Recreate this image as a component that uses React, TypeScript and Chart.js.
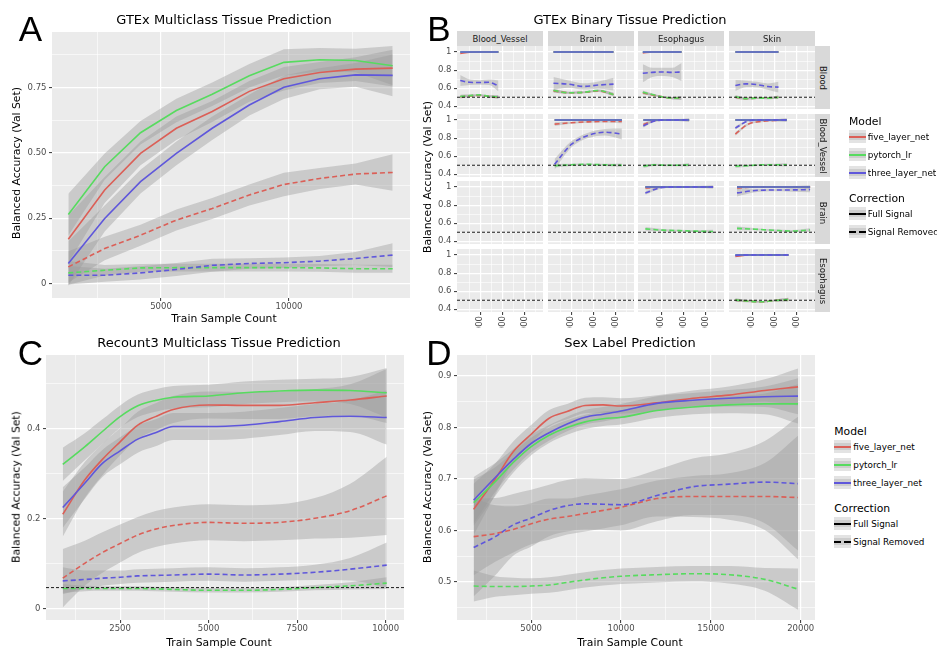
import React, { useEffect, useRef } from 'react';
import { Chart, registerables } from 'chart.js';

Chart.register(...registerables);

const FONT = "'DejaVu Sans', 'Noto Sans', sans-serif";
const LETTER_FONT = "'Liberation Sans', Arial, sans-serif";
const RED = '#DB5F57';
const GREEN = '#57DB5F';
const BLUE = '#5F57DB';
const RIBBON = 'rgba(153,153,153,0.4)';
const PANEL_BG = '#EBEBEB';
const TICK_TEXT = '#4D4D4D';
const TICK_MARK = '#333333';

const modelNames = ['five_layer_net', 'pytorch_lr', 'three_layer_net'];
const correctionNames = ['Full Signal', 'Signal Removed'];

// ---------------- Panel A: GTEx multiclass ----------------
const aSampleCounts = [1380, 2800, 4200, 5600, 7000, 8450, 9800, 11200, 12600, 14050];
const aFiveFull = [0.170, 0.358, 0.498, 0.594, 0.658, 0.735, 0.783, 0.807, 0.820, 0.824];
const aLrFull = [0.264, 0.447, 0.577, 0.662, 0.724, 0.795, 0.846, 0.856, 0.853, 0.833];
const aThreeFull = [0.077, 0.249, 0.390, 0.498, 0.594, 0.683, 0.751, 0.783, 0.798, 0.796];
const aFiveRem = [0.064, 0.134, 0.185, 0.243, 0.287, 0.339, 0.379, 0.402, 0.419, 0.425];
const aLrRem = [0.041, 0.051, 0.060, 0.061, 0.061, 0.061, 0.061, 0.060, 0.057, 0.057];
const aThreeRem = [0.032, 0.032, 0.041, 0.054, 0.070, 0.077, 0.080, 0.086, 0.096, 0.109];
const aFiveFullBand = [0.09, 0.05, 0.045, 0.045, 0.04, 0.04, 0.045, 0.04, 0.045, 0.07];
const aLrFullBand = [0.08, 0.05, 0.045, 0.045, 0.045, 0.045, 0.05, 0.045, 0.045, 0.075];
const aThreeFullBand = [0.085, 0.05, 0.045, 0.045, 0.045, 0.04, 0.045, 0.04, 0.045, 0.08];
const aFiveRemBand = [0.06, 0.045, 0.04, 0.04, 0.04, 0.04, 0.045, 0.04, 0.04, 0.07];
const aLrRemBand = [0.045, 0.02, 0.015, 0.015, 0.015, 0.015, 0.015, 0.015, 0.015, 0.015];
const aThreeRemBand = [0.035, 0.025, 0.025, 0.025, 0.025, 0.02, 0.02, 0.02, 0.025, 0.045];
const aXMajor = [5000, 10000];
const aXLabels = ['5000', '10000'];
const aXMinor = [2500, 7500, 12500];
const aYMajor = [0, 0.25, 0.5, 0.75];
const aYLabels = ['0', '0.25', '0.50', '0.75'];
const aYMinor = [0.125, 0.375, 0.625, 0.875];

// ---------------- Panel C: Recount3 multiclass ----------------
const cSampleCounts = [880, 1500, 2000, 2500, 3000, 3500, 4000, 5000, 6000, 7000, 8000, 9000, 10030];
const cLrFull = [0.320, 0.359, 0.393, 0.426, 0.450, 0.462, 0.469, 0.472, 0.479, 0.483, 0.485, 0.484, 0.479];
const cFiveFull = [0.209, 0.285, 0.331, 0.370, 0.407, 0.426, 0.442, 0.452, 0.451, 0.451, 0.457, 0.463, 0.472];
const cThreeFull = [0.224, 0.278, 0.322, 0.350, 0.376, 0.390, 0.404, 0.404, 0.407, 0.415, 0.424, 0.427, 0.424];
const cFiveRem = [0.067, 0.100, 0.124, 0.144, 0.163, 0.176, 0.184, 0.191, 0.189, 0.191, 0.200, 0.217, 0.250];
const cThreeRem = [0.061, 0.064, 0.067, 0.069, 0.072, 0.073, 0.074, 0.076, 0.074, 0.076, 0.080, 0.087, 0.096];
const cLrRem = [0.044, 0.044, 0.044, 0.044, 0.044, 0.043, 0.042, 0.040, 0.040, 0.042, 0.046, 0.050, 0.056];
const cLrFullBand = [0.037, 0.03, 0.027, 0.025, 0.025, 0.025, 0.025, 0.025, 0.025, 0.025, 0.025, 0.03, 0.055];
const cFiveFullBand = [0.05, 0.04, 0.035, 0.03, 0.03, 0.03, 0.03, 0.03, 0.03, 0.03, 0.03, 0.035, 0.06];
const cThreeFullBand = [0.045, 0.035, 0.03, 0.03, 0.03, 0.03, 0.03, 0.03, 0.03, 0.03, 0.03, 0.035, 0.06];
const cFiveRemBand = [0.065, 0.05, 0.045, 0.042, 0.04, 0.04, 0.04, 0.04, 0.04, 0.04, 0.045, 0.06, 0.087];
const cThreeRemBand = [0.03, 0.02, 0.017, 0.015, 0.015, 0.015, 0.015, 0.015, 0.015, 0.015, 0.017, 0.025, 0.05];
const cLrRemBand = [0.01, 0.006, 0.005, 0.005, 0.005, 0.005, 0.005, 0.005, 0.005, 0.005, 0.006, 0.008, 0.013];
const cChanceLevel = 0.046;
const cXMajor = [2500, 5000, 7500, 10000];
const cXLabels = ['2500', '5000', '7500', '10000'];
const cXMinor = [1250, 3750, 6250, 8750];
const cYMajor = [0, 0.2, 0.4];
const cYLabels = ['0', '0.2', '0.4'];
const cYMinor = [0.1, 0.3, 0.5];

// ---------------- Panel D: Sex label ----------------
const dSampleCounts = [1800, 3000, 4000, 5000, 6000, 7000, 8000, 9000, 10000, 12000, 14000, 16000, 18000, 19850];
const dFiveFull = [0.641, 0.700, 0.753, 0.787, 0.818, 0.831, 0.843, 0.844, 0.842, 0.848, 0.857, 0.863, 0.872, 0.879];
const dThreeFull = [0.659, 0.703, 0.738, 0.769, 0.790, 0.807, 0.820, 0.826, 0.832, 0.847, 0.853, 0.857, 0.860, 0.861];
const dLrFull = [0.654, 0.695, 0.732, 0.763, 0.785, 0.800, 0.811, 0.817, 0.820, 0.833, 0.840, 0.844, 0.846, 0.846];
const dThreeRem = [0.567, 0.588, 0.611, 0.624, 0.639, 0.648, 0.652, 0.651, 0.650, 0.668, 0.685, 0.690, 0.694, 0.691];
const dFiveRem = [0.588, 0.594, 0.602, 0.613, 0.622, 0.627, 0.633, 0.639, 0.645, 0.662, 0.666, 0.666, 0.666, 0.664];
const dLrRem = [0.492, 0.491, 0.491, 0.492, 0.494, 0.499, 0.504, 0.508, 0.511, 0.514, 0.516, 0.514, 0.505, 0.486];
const dFiveFullBand = [0.05, 0.03, 0.02, 0.018, 0.016, 0.015, 0.015, 0.015, 0.015, 0.015, 0.015, 0.017, 0.022, 0.036];
const dThreeFullBand = [0.045, 0.028, 0.02, 0.017, 0.015, 0.014, 0.014, 0.014, 0.014, 0.014, 0.014, 0.016, 0.02, 0.035];
const dLrFullBand = [0.045, 0.028, 0.02, 0.017, 0.015, 0.014, 0.014, 0.014, 0.014, 0.014, 0.014, 0.016, 0.02, 0.038];
const dThreeRemBand = [0.095, 0.075, 0.06, 0.055, 0.05, 0.05, 0.05, 0.05, 0.05, 0.05, 0.055, 0.06, 0.08, 0.13];
const dFiveRemBand = [0.075, 0.055, 0.045, 0.04, 0.04, 0.035, 0.035, 0.035, 0.035, 0.035, 0.04, 0.045, 0.065, 0.12];
const dLrRemBand = [0.03, 0.02, 0.017, 0.015, 0.015, 0.015, 0.015, 0.015, 0.015, 0.015, 0.015, 0.017, 0.022, 0.04];
const dXMajor = [5000, 10000, 15000, 20000];
const dXLabels = ['5000', '10000', '15000', '20000'];
const dXMinor = [2500, 7500, 12500, 17500];
const dYMajor = [0.5, 0.6, 0.7, 0.8, 0.9];
const dYLabels = ['0.5', '0.6', '0.7', '0.8', '0.9'];
const dYMinor = [0.45, 0.55, 0.65, 0.75, 0.85];

// ---------------- Panel B: GTEx binary facets ----------------
const bColumnNames = ['Blood_Vessel', 'Brain', 'Esophagus', 'Skin'];
const bRowNames = ['Blood', 'Blood_Vessel', 'Brain', 'Esophagus'];
const bXMajor = [1000, 2000, 3000];
const bXLabels = ['1000', '2000', '3000'];
const bXMinor = [500, 1500, 2500, 3500];
const bYMajor = [0.4, 0.6, 0.8, 1.0];
const bYLabels = ['0.4', '0.6', '0.8', '1'];
const bYMinor = [0.5, 0.7, 0.9];
const bChanceLevel = 0.5;
const bPerfect = [1, 1, 1, 1, 1];
const bSmallBand = [0.02, 0.012, 0.01, 0.012, 0.02];

const bBloodVsVesselX = [100, 530, 960, 1390, 1820];
const bBloodVsVesselFiveFull = [0.985, 0.997, 1, 1, 1];
const bBloodVsVesselFiveRem = [0.505, 0.515, 0.52, 0.51, 0.5];
const bBloodVsVesselLrRem = [0.508, 0.518, 0.526, 0.51, 0.505];
const bBloodVsVesselThreeRem = [0.685, 0.665, 0.663, 0.665, 0.625];
const bBloodVsVesselThreeBand = [0.06, 0.03, 0.025, 0.03, 0.06];

const bBloodVsBrainX = [200, 875, 1550, 2225, 2900];
const bBloodVsBrainFiveFull = [1, 1, 1, 1, 1];
const bBloodVsBrainFiveRem = [0.57, 0.55, 0.553, 0.57, 0.53];
const bBloodVsBrainLrRem = [0.575, 0.55, 0.555, 0.575, 0.53];
const bBloodVsBrainThreeRem = [0.655, 0.645, 0.62, 0.635, 0.645];
const bBloodVsBrainThreeBand = [0.07, 0.04, 0.035, 0.04, 0.07];

const bBloodVsEsophX = [170, 600, 1040, 1480, 1915];
const bBloodVsEsophFiveFull = [0.99, 1, 1, 1, 1];
const bBloodVsEsophFiveRem = [0.55, 0.525, 0.505, 0.49, 0.49];
const bBloodVsEsophLrRem = [0.555, 0.53, 0.505, 0.49, 0.493];
const bBloodVsEsophThreeRem = [0.765, 0.775, 0.78, 0.775, 0.78];
const bBloodVsEsophThreeBand = [0.1, 0.05, 0.045, 0.05, 0.1];

const bBloodVsSkinX = [240, 725, 1210, 1695, 2180];
const bBloodVsSkinFiveFull = [1, 1, 1, 1, 1];
const bBloodVsSkinFiveRem = [0.5, 0.485, 0.49, 0.49, 0.5];
const bBloodVsSkinLrRem = [0.505, 0.485, 0.49, 0.49, 0.5];
const bBloodVsSkinThreeRem = [0.63, 0.648, 0.64, 0.618, 0.612];
const bBloodVsSkinThreeBand = [0.06, 0.035, 0.03, 0.035, 0.06];

const bVesselVsBrainX = [250, 1000, 1760, 2520, 3275];
const bVesselVsBrainFiveFull = [1, 1, 1, 1, 1];
const bVesselVsBrainFiveRem = [0.955, 0.97, 0.98, 0.985, 0.985];
const bVesselVsBrainLrRem = [0.495, 0.505, 0.51, 0.505, 0.5];
const bVesselVsBrainThreeRem = [0.51, 0.73, 0.83, 0.865, 0.845];
const bVesselVsBrainThreeBand = [0.06, 0.035, 0.03, 0.035, 0.06];

const bVesselVsEsophX = [195, 710, 1225, 1740, 2255];
const bVesselVsEsophFiveFull = [1, 1, 1, 1, 1];
const bVesselVsEsophFiveRem = [0.95, 0.995, 1, 1, 1];
const bVesselVsEsophLrRem = [0.49, 0.505, 0.5, 0.5, 0.505];
const bVesselVsEsophThreeRem = [0.935, 0.99, 1, 1, 1];
const bVesselVsEsophThreeBand = [0.02, 0.01, 0.008, 0.01, 0.015];

const bVesselVsSkinX = [240, 820, 1400, 1980, 2555];
const bVesselVsSkinFiveFull = [1, 1, 1, 1, 1];
const bVesselVsSkinFiveRem = [0.845, 0.955, 0.985, 0.995, 1];
const bVesselVsSkinLrRem = [0.49, 0.495, 0.505, 0.505, 0.505];
const bVesselVsSkinThreeRem = [0.91, 0.99, 1, 1, 1];
const bVesselVsSkinThreeBand = [0.02, 0.01, 0.008, 0.01, 0.015];

const bBrainVsEsophX = [285, 1045, 1810, 2570, 3330];
const bBrainVsEsophFiveFull = [1, 1, 1, 1, 1];
const bBrainVsEsophFiveRem = [0.99, 1, 1, 1, 1];
const bBrainVsEsophLrRem = [0.537, 0.523, 0.518, 0.512, 0.508];
const bBrainVsEsophThreeRem = [0.935, 0.995, 1, 1, 1];
const bBrainVsEsophThreeBand = [0.02, 0.01, 0.008, 0.008, 0.01];

const bBrainVsSkinX = [315, 1140, 1960, 2780, 3600];
const bBrainVsSkinFiveFull = [1, 1, 1, 1, 1];
const bBrainVsSkinFiveRem = [0.99, 1, 1, 1, 1];
const bBrainVsSkinLrRem = [0.543, 0.533, 0.522, 0.513, 0.525];
const bBrainVsSkinThreeRem = [0.935, 0.962, 0.967, 0.968, 0.972];
const bBrainVsSkinThreeBand = [0.04, 0.02, 0.015, 0.02, 0.03];

const bEsophVsSkinX = [240, 835, 1430, 2030, 2630];
const bEsophVsSkinFiveFull = [0.985, 1, 1, 1, 1];
const bEsophVsSkinFiveRem = [0.5, 0.49, 0.483, 0.497, 0.507];
const bEsophVsSkinLrRem = [0.503, 0.49, 0.483, 0.497, 0.507];
const bEsophVsSkinThreeRem = [0.995, 1, 1, 1, 1];
const bEsophVsSkinThreeBand = [0.01, 0.006, 0.005, 0.006, 0.01];

const bFacetData = [
  { row: 0, col: 0, x: bBloodVsVesselX, fiveFull: bBloodVsVesselFiveFull, fiveRem: bBloodVsVesselFiveRem, lrRem: bBloodVsVesselLrRem, threeRem: bBloodVsVesselThreeRem, threeBand: bBloodVsVesselThreeBand },
  { row: 0, col: 1, x: bBloodVsBrainX, fiveFull: bBloodVsBrainFiveFull, fiveRem: bBloodVsBrainFiveRem, lrRem: bBloodVsBrainLrRem, threeRem: bBloodVsBrainThreeRem, threeBand: bBloodVsBrainThreeBand },
  { row: 0, col: 2, x: bBloodVsEsophX, fiveFull: bBloodVsEsophFiveFull, fiveRem: bBloodVsEsophFiveRem, lrRem: bBloodVsEsophLrRem, threeRem: bBloodVsEsophThreeRem, threeBand: bBloodVsEsophThreeBand },
  { row: 0, col: 3, x: bBloodVsSkinX, fiveFull: bBloodVsSkinFiveFull, fiveRem: bBloodVsSkinFiveRem, lrRem: bBloodVsSkinLrRem, threeRem: bBloodVsSkinThreeRem, threeBand: bBloodVsSkinThreeBand },
  { row: 1, col: 1, x: bVesselVsBrainX, fiveFull: bVesselVsBrainFiveFull, fiveRem: bVesselVsBrainFiveRem, lrRem: bVesselVsBrainLrRem, threeRem: bVesselVsBrainThreeRem, threeBand: bVesselVsBrainThreeBand },
  { row: 1, col: 2, x: bVesselVsEsophX, fiveFull: bVesselVsEsophFiveFull, fiveRem: bVesselVsEsophFiveRem, lrRem: bVesselVsEsophLrRem, threeRem: bVesselVsEsophThreeRem, threeBand: bVesselVsEsophThreeBand },
  { row: 1, col: 3, x: bVesselVsSkinX, fiveFull: bVesselVsSkinFiveFull, fiveRem: bVesselVsSkinFiveRem, lrRem: bVesselVsSkinLrRem, threeRem: bVesselVsSkinThreeRem, threeBand: bVesselVsSkinThreeBand },
  { row: 2, col: 2, x: bBrainVsEsophX, fiveFull: bBrainVsEsophFiveFull, fiveRem: bBrainVsEsophFiveRem, lrRem: bBrainVsEsophLrRem, threeRem: bBrainVsEsophThreeRem, threeBand: bBrainVsEsophThreeBand },
  { row: 2, col: 3, x: bBrainVsSkinX, fiveFull: bBrainVsSkinFiveFull, fiveRem: bBrainVsSkinFiveRem, lrRem: bBrainVsSkinLrRem, threeRem: bBrainVsSkinThreeRem, threeBand: bBrainVsSkinThreeBand },
  { row: 3, col: 3, x: bEsophVsSkinX, fiveFull: bEsophVsSkinFiveFull, fiveRem: bEsophVsSkinFiveRem, lrRem: bEsophVsSkinLrRem, threeRem: bEsophVsSkinThreeRem, threeBand: bEsophVsSkinThreeBand },
];

// ---------------- helpers ----------------
type Series = { xs: number[]; ys: number[]; band: number[] | null; color: string; dashed: boolean };

function buildDatasets(series: Series[], smooth: boolean, hline: number | null, xMin: number, xMax: number) {
  const interp: any = smooth ? { cubicInterpolationMode: 'monotone' } : { tension: 0 };
  const ds: any[] = [];
  for (const s of series) {
    if (!s.band) continue;
    const b = s.band;
    ds.push({ data: s.xs.map((x, i) => ({ x, y: s.ys[i] - b[i] })), borderColor: 'rgba(0,0,0,0)', borderWidth: 0, pointRadius: 0, fill: false, ...interp });
    ds.push({ data: s.xs.map((x, i) => ({ x, y: s.ys[i] + b[i] })), borderColor: 'rgba(0,0,0,0)', borderWidth: 0, pointRadius: 0, fill: '-1', backgroundColor: RIBBON, ...interp });
  }
  for (const s of series) {
    ds.push({ data: s.xs.map((x, i) => ({ x, y: s.ys[i] })), borderColor: s.color, borderWidth: 1.6, borderDash: s.dashed ? [5, 3] : [], pointRadius: 0, fill: false, ...interp });
  }
  if (hline !== null) {
    ds.push({ data: [{ x: xMin, y: hline }, { x: xMax, y: hline }], borderColor: '#000000', borderWidth: 0.9, borderDash: [3, 2], pointRadius: 0, fill: false, tension: 0 });
  }
  ds.forEach((d, i) => { d.order = 1000 - i; });
  return ds;
}

function sixSeries(xs: number[], fiveFull: number[], fiveRem: number[], lrFull: number[], lrRem: number[], threeFull: number[], threeRem: number[],
  bands: (number[] | null)[]): Series[] {
  return [
    { xs, ys: fiveFull, band: bands[0], color: RED, dashed: false },
    { xs, ys: fiveRem, band: bands[1], color: RED, dashed: true },
    { xs, ys: lrFull, band: bands[2], color: GREEN, dashed: false },
    { xs, ys: lrRem, band: bands[3], color: GREEN, dashed: true },
    { xs, ys: threeFull, band: bands[4], color: BLUE, dashed: false },
    { xs, ys: threeRem, band: bands[5], color: BLUE, dashed: true },
  ];
}

type Spec = {
  left: number; top: number; w: number; h: number; padL: number; padB: number;
  xMin: number; xMax: number; yMin: number; yMax: number;
  xMajor: number[]; xMinor: number[]; xLabels: string[] | null; xTickMarks: boolean; xRot: number;
  yMajor: number[]; yMinor: number[]; yLabels: string[] | null; yTickMarks: boolean;
  datasets: any[];
};

const PT = 6;
const PR = 4;

const bgPlugin = {
  id: 'panelBg',
  beforeDraw(chart: any) {
    const { ctx, chartArea: a } = chart;
    ctx.save();
    ctx.fillStyle = PANEL_BG;
    ctx.fillRect(a.left, a.top, a.right - a.left, a.bottom - a.top);
    ctx.restore();
  },
};

function axisCfg(min: number, max: number, major: number[], minor: number[], labels: string[] | null, marks: boolean, isX: boolean, size: number, rot: number) {
  const all = [...major, ...minor].sort((p, q) => p - q);
  const isMajor = (v: number) => major.indexOf(v) >= 0;
  return {
    type: 'linear',
    min, max, bounds: 'data',
    afterBuildTicks: (s: any) => { s.ticks = all.map((v) => ({ value: v })); },
    afterFit: (s: any) => {
      if (isX) s.height = size; else s.width = size;
      s.paddingLeft = 0; s.paddingRight = 0; s.paddingTop = 0; s.paddingBottom = 0;
    },
    ticks: {
      display: labels !== null,
      autoSkip: false,
      maxRotation: rot,
      minRotation: rot,
      padding: isX ? 1 : 2.5,
      color: TICK_TEXT,
      font: { family: FONT, size: 8.5 },
      callback: (v: number) => {
        const i = major.indexOf(v);
        return i >= 0 && labels ? labels[i] : '';
      },
    },
    grid: {
      color: '#FFFFFF',
      lineWidth: (ctx: any) => (ctx.tick && isMajor(ctx.tick.value) ? 1.2 : 0.6),
      drawTicks: marks,
      tickLength: 3,
      tickWidth: 1,
      tickColor: (ctx: any) => (ctx.tick && isMajor(ctx.tick.value) ? TICK_MARK : 'rgba(0,0,0,0)'),
    },
    border: { display: false },
  };
}

function makeConfig(p: Spec): any {
  return {
    type: 'line',
    data: { datasets: p.datasets },
    options: {
      animation: false,
      responsive: false,
      maintainAspectRatio: false,
      events: [],
      layout: { padding: { top: PT, right: PR, left: 0, bottom: 0 } },
      plugins: { legend: { display: false }, tooltip: { enabled: false }, title: { display: false } },
      scales: {
        x: axisCfg(p.xMin, p.xMax, p.xMajor, p.xMinor, p.xLabels, p.xTickMarks, true, p.padB, p.xRot),
        y: axisCfg(p.yMin, p.yMax, p.yMajor, p.yMinor, p.yLabels, p.yTickMarks, false, p.padL, 0),
      },
    },
    plugins: [bgPlugin],
  };
}

function ChartCanvas({ spec }: { spec: Spec }) {
  const ref = useRef<HTMLCanvasElement>(null);
  useEffect(() => {
    const chart = new Chart(ref.current as HTMLCanvasElement, makeConfig(spec));
    return () => chart.destroy();
  }, []);
  const w = spec.w + spec.padL + PR;
  const h = spec.h + PT + spec.padB;
  return (
    <canvas
      ref={ref}
      width={w}
      height={h}
      style={{ position: 'absolute', left: spec.left - spec.padL, top: spec.top - PT, width: w, height: h }}
    />
  );
}

// ---------------- specs ----------------
const A_X = [742, 14727];
const A_Y = [-0.055, 0.962];
const specA: Spec = {
  left: 52, top: 32, w: 358, h: 266, padL: 45, padB: 22,
  xMin: A_X[0], xMax: A_X[1], yMin: A_Y[0], yMax: A_Y[1],
  xMajor: aXMajor, xMinor: aXMinor, xLabels: aXLabels, xTickMarks: true, xRot: 0,
  yMajor: aYMajor, yMinor: aYMinor, yLabels: aYLabels, yTickMarks: true,
  datasets: buildDatasets(
    sixSeries(aSampleCounts, aFiveFull, aFiveRem, aLrFull, aLrRem, aThreeFull, aThreeRem,
      [aFiveFullBand, aFiveRemBand, aLrFullBand, aLrRemBand, aThreeFullBand, aThreeRemBand]),
    false, null, A_X[0], A_X[1]),
};

const C_X = [407, 10518];
const C_Y = [-0.026, 0.563];
const specC: Spec = {
  left: 46, top: 355, w: 358, h: 265, padL: 40, padB: 22,
  xMin: C_X[0], xMax: C_X[1], yMin: C_Y[0], yMax: C_Y[1],
  xMajor: cXMajor, xMinor: cXMinor, xLabels: cXLabels, xTickMarks: true, xRot: 0,
  yMajor: cYMajor, yMinor: cYMinor, yLabels: cYLabels, yTickMarks: true,
  datasets: buildDatasets(
    sixSeries(cSampleCounts, cFiveFull, cFiveRem, cLrFull, cLrRem, cThreeFull, cThreeRem,
      [cFiveFullBand, cFiveRemBand, cLrFullBand, cLrRemBand, cThreeFullBand, cThreeRemBand]),
    true, cChanceLevel, C_X[0], C_X[1]),
};

const D_X = [872, 20794];
const D_Y = [0.426, 0.941];
const specD: Spec = {
  left: 457, top: 355, w: 358, h: 265, padL: 35, padB: 22,
  xMin: D_X[0], xMax: D_X[1], yMin: D_Y[0], yMax: D_Y[1],
  xMajor: dXMajor, xMinor: dXMinor, xLabels: dXLabels, xTickMarks: true, xRot: 0,
  yMajor: dYMajor, yMinor: dYMinor, yLabels: dYLabels, yTickMarks: true,
  datasets: buildDatasets(
    sixSeries(dSampleCounts, dFiveFull, dFiveRem, dLrFull, dLrRem, dThreeFull, dThreeRem,
      [dFiveFullBand, dFiveRemBand, dLrFullBand, dLrRemBand, dThreeFullBand, dThreeRemBand]),
    true, null, D_X[0], D_X[1]),
};

const B_X = [-45, 3820];
const B_Y = [0.37, 1.0667];
const B_COL_L = [457, 548, 638, 729];
const B_COL_W = 86;
const B_ROW_T = [46, 114, 181, 249];
const B_ROW_H = 63;

const bSpecs: Spec[] = [];
for (let r = 0; r < 4; r++) {
  for (let c = 0; c < 4; c++) {
    const f = bFacetData.find((d) => d.row === r && d.col === c);
    const series = f
      ? sixSeries(f.x, f.fiveFull, f.fiveRem, bPerfect, f.lrRem, bPerfect, f.threeRem,
        [null, bSmallBand, null, bSmallBand, null, f.threeBand])
      : [];
    bSpecs.push({
      left: B_COL_L[c], top: B_ROW_T[r], w: B_COL_W, h: B_ROW_H,
      padL: c === 0 ? 30 : 0, padB: r === 3 ? 32 : 0,
      xMin: B_X[0], xMax: B_X[1], yMin: B_Y[0], yMax: B_Y[1],
      xMajor: bXMajor, xMinor: bXMinor, xLabels: r === 3 ? bXLabels : null, xTickMarks: r === 3, xRot: 90,
      yMajor: bYMajor, yMinor: bYMinor, yLabels: c === 0 ? bYLabels : null, yTickMarks: c === 0,
      datasets: buildDatasets(series, true, bChanceLevel, B_X[0], B_X[1]),
    });
  }
}

// ---------------- text helpers ----------------
function T({ x, y, s, size = 10.8, anchor = 'middle', rot = 0, family = FONT, color = '#000000' }:
  { x: number; y: number; s: string; size?: number; anchor?: string; rot?: number; family?: string; color?: string }) {
  const tx = anchor === 'middle' ? '-50%' : anchor === 'start' ? '0%' : '-100%';
  return (
    <div style={{
      position: 'absolute', left: x, top: y, transform: `translate(${tx}, -50%)${rot ? ` rotate(${rot}deg)` : ''}`,
      fontSize: size, fontFamily: family, color, whiteSpace: 'nowrap', lineHeight: 1,
    }}>{s}</div>
  );
}

function Key({ x, y, color, dashed }: { x: number; y: number; color: string; dashed: boolean }) {
  return (
    <div style={{ position: 'absolute', left: x, top: y - 8.5, width: 17, height: 17 }}>
      <div style={{ position: 'absolute', left: 0, top: 2, width: 17, height: 13, background: '#E3E3E3' }} />
      <div style={{ position: 'absolute', left: 0, top: 5, width: 17, height: 7, background: '#CDCDCD' }} />
      {dashed ? (
        <>
          <div style={{ position: 'absolute', left: 0, top: 7.5, width: 7, height: 2, background: color }} />
          <div style={{ position: 'absolute', left: 10, top: 7.5, width: 7, height: 2, background: color }} />
        </>
      ) : (
        <div style={{ position: 'absolute', left: 0, top: 7.5, width: 17, height: 2, background: color }} />
      )}
    </div>
  );
}

function Legend({ x, y0, labelX }: { x: number; y0: number; labelX: number }) {
  const modelColors = [RED, GREEN, BLUE];
  const modelY = [y0 + 15, y0 + 33, y0 + 51];
  const corrY = [y0 + 92, y0 + 110];
  return (
    <>
      <T x={x} y={y0} s="Model" anchor="start" size={10.8} />
      {modelNames.map((m, i) => (
        <React.Fragment key={m}>
          <Key x={x} y={modelY[i]} color={modelColors[i]} dashed={false} />
          <T x={labelX} y={modelY[i]} s={m} anchor="start" size={8.8} />
        </React.Fragment>
      ))}
      <T x={x} y={y0 + 77} s="Correction" anchor="start" size={10.8} />
      {correctionNames.map((m, i) => (
        <React.Fragment key={m}>
          <Key x={x} y={corrY[i]} color="#000000" dashed={i === 1} />
          <T x={labelX} y={corrY[i]} s={m} anchor="start" size={8.8} />
        </React.Fragment>
      ))}
    </>
  );
}

export default function App() {
  return (
    <div style={{ position: 'fixed', left: 0, top: 0, width: 937, height: 650, background: '#FFFFFF', overflow: 'hidden', fontFamily: FONT }}>
      <ChartCanvas spec={specA} />
      <ChartCanvas spec={specC} />
      <ChartCanvas spec={specD} />
      <div style={{ position: 'absolute', left: 0, top: 0, width: 937, height: 328, overflow: 'hidden' }}>
        {bSpecs.map((s, i) => <ChartCanvas key={i} spec={s} />)}
      </div>

      {/* strips for panel B */}
      {bColumnNames.map((name, c) => (
        <div key={'col' + c} style={{ position: 'absolute', left: B_COL_L[c], top: 31, width: B_COL_W, height: 15, background: '#D9D9D9' }}>
          <T x={B_COL_W / 2} y={7.5} s={name} size={8.5} color="#1A1A1A" />
        </div>
      ))}
      {bRowNames.map((name, r) => (
        <div key={'row' + r} style={{ position: 'absolute', left: 815, top: B_ROW_T[r], width: 15, height: B_ROW_H, background: '#D9D9D9' }}>
          <T x={7.5} y={B_ROW_H / 2} s={name} size={8.5} rot={90} color="#1A1A1A" />
        </div>
      ))}

      {/* panel letters */}
      <T x={30.5} y={28} s="A" size={35} family={LETTER_FONT} />
      <T x={439} y={28} s="B" size={35} family={LETTER_FONT} />
      <T x={30.5} y={352} s="C" size={35} family={LETTER_FONT} />
      <T x={439} y={352} s="D" size={35} family={LETTER_FONT} />

      {/* titles */}
      <T x={224} y={18.5} s="GTEx Multiclass Tissue Prediction" size={13} />
      <T x={630} y={18.5} s="GTEx Binary Tissue Prediction" size={13} />
      <T x={219} y={342} s="Recount3 Multiclass Tissue Prediction" size={13} />
      <T x={630} y={342} s="Sex Label Prediction" size={13} />

      {/* axis titles */}
      <T x={17} y={163} s="Balanced Accuracy (Val Set)" rot={-90} />
      <T x={224} y={319} s="Train Sample Count" />
      <T x={428} y={177} s="Balanced Accuracy (Val Set)" rot={-90} />
      <T x={17} y={487} s="Balanced Accuracy (Val Set)" rot={-90} />
      <T x={219} y={643} s="Train Sample Count" />
      <T x={428} y={487} s="Balanced Accuracy (Val Set)" rot={-90} />
      <T x={630} y={643} s="Train Sample Count" />

      {/* legends */}
      <Legend x={849} y0={121.7} labelX={867.7} />
      <Legend x={834.3} y0={431.7} labelX={853.3} />
    </div>
  );
}
